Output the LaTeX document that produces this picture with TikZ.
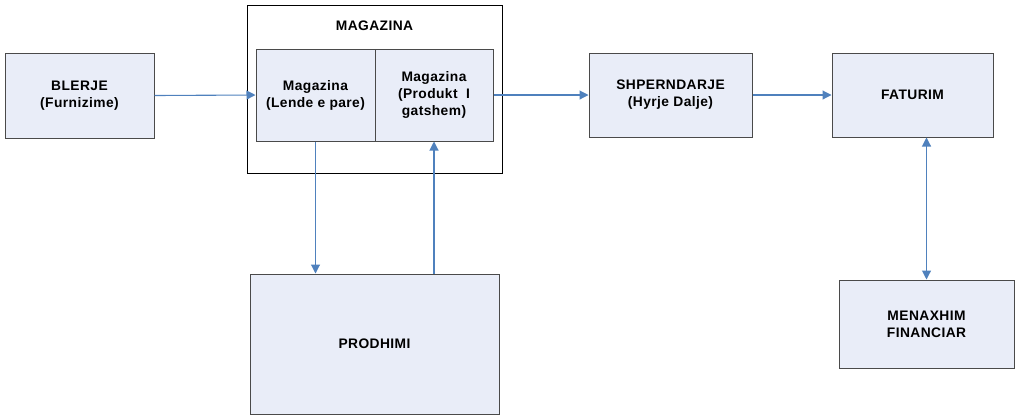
\documentclass[tikz,border=0pt]{standalone}
\usepackage{fontspec}
\setmainfont{Liberation Sans}[LetterSpace=3]
\usetikzlibrary{arrows.meta}
\definecolor{boxfill}{HTML}{E9EDF8}
\definecolor{boxline}{HTML}{4A4A4A}
\definecolor{flowblue}{HTML}{4F81BD}
\tikzset{
  modul/.style={draw=boxline,line width=1pt,fill=boxfill,align=center,inner sep=0pt,
    font=\fontsize{13.8}{17}\selectfont\bfseries},
  rrjedhe/.style={draw=flowblue,line width=1.1pt,-{Triangle[length=9pt,width=9pt]}}
}
\begin{document}
\begin{tikzpicture}[x=1pt,y=-1pt]
\useasboundingbox (0,0) rectangle (1019,416);

%kutia e madhe e magazines
\node[draw=black,line width=0.9pt,minimum width=255pt,minimum height=168pt] (magazina) at (374.5,89) {};
\node[font=\fontsize{13.8}{17}\selectfont\bfseries] (titull) at (374.5,26) {MAGAZINA};

%modulet
\node[modul,minimum width=149pt,minimum height=85pt] (blerje) at (79.5,95.5) {BLERJE\\(Furnizime)};
\node[modul,minimum width=119pt,minimum height=92pt] (lende) at (315.5,95) {Magazina\\(Lende e pare)};
\node[modul,minimum width=118pt,minimum height=92pt] (produkt) at (434,95) {Magazina\\(Produkt\ \ I\\gatshem)};
\node[modul,minimum width=163pt,minimum height=84pt] (shperndarje) at (670.5,95) {SHPERNDARJE\\(Hyrje Dalje)};
\node[modul,minimum width=161pt,minimum height=84pt] (faturim) at (912.5,95) {FATURIM};
\node[modul,minimum width=249pt,minimum height=140pt] (prodhimi) at (374.5,344) {PRODHIMI};
\node[modul,minimum width=175pt,minimum height=88pt] (menaxhim) at (926.5,324) {MENAXHIM\\FINANCIAR};

%shigjetat
\draw[rrjedhe] (blerje.east) -- (lende.west);
\draw[rrjedhe] (produkt.east) -- (shperndarje.west);
\draw[rrjedhe] (shperndarje.east) -- (faturim.west);
\draw[rrjedhe] (lende.south) -- (lende.south |- prodhimi.north);
\draw[rrjedhe] (produkt.south |- prodhimi.north) -- (produkt.south);
\draw[rrjedhe,{Triangle[length=9pt,width=9pt]}-{Triangle[length=9pt,width=9pt]}] (menaxhim.north |- faturim.south) -- (menaxhim.north);

\end{tikzpicture}
\end{document}
